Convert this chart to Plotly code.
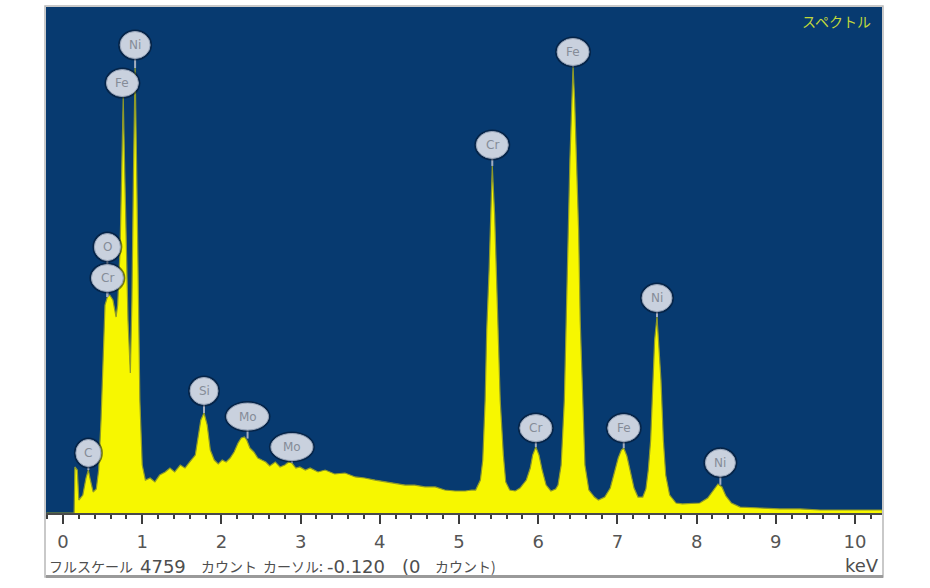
import plotly.graph_objects as go

# ---------------- data ----------------
energy_kev = [
    -0.21, 0.14, 0.15, 0.18, 0.20, 0.25, 0.29, 0.32, 0.34, 0.38,
    0.42, 0.45, 0.48, 0.51, 0.53, 0.56, 0.59, 0.63, 0.67, 0.69,
    0.72, 0.74, 0.76, 0.78, 0.80, 0.82, 0.85, 0.87, 0.89, 0.91,
    0.93, 0.95, 0.97, 1.00, 1.04, 1.10, 1.16, 1.22, 1.29, 1.35,
    1.41, 1.48, 1.54, 1.60, 1.67, 1.70, 1.74, 1.78, 1.82, 1.86,
    1.91, 1.96, 2.01, 2.06, 2.11, 2.16, 2.21, 2.25, 2.29, 2.32,
    2.36, 2.41, 2.46, 2.51, 2.56, 2.61, 2.68, 2.74, 2.80, 2.85,
    2.89, 2.94, 2.99, 3.06, 3.12, 3.22, 3.31, 3.43, 3.56, 3.69,
    3.81, 3.94, 4.07, 4.19, 4.32, 4.44, 4.57, 4.70, 4.82, 4.95,
    5.08, 5.16, 5.21, 5.27, 5.30, 5.33, 5.35, 5.38, 5.40, 5.42,
    5.45, 5.47, 5.50, 5.52, 5.56, 5.59, 5.64, 5.71, 5.77, 5.85,
    5.90, 5.93, 5.97, 6.01, 6.05, 6.10, 6.16, 6.22, 6.25, 6.29,
    6.33, 6.35, 6.38, 6.40, 6.42, 6.44, 6.46, 6.48, 6.51, 6.53,
    6.56, 6.59, 6.64, 6.71, 6.76, 6.84, 6.91, 6.96, 7.01, 7.05,
    7.08, 7.12, 7.16, 7.21, 7.26, 7.32, 7.36, 7.39, 7.42, 7.45,
    7.47, 7.50, 7.52, 7.55, 7.58, 7.61, 7.66, 7.74, 7.82, 8.04,
    8.14, 8.21, 8.27, 8.32, 8.37, 8.44, 8.55, 8.80, 9.05, 9.31,
    9.56, 9.81, 10.06, 10.34,
]
counts = [
    0, 0, 433, 404, 122, 169, 329, 404, 329, 198,
    226, 404, 875, 1439, 1956, 2031, 2050, 2003, 1843, 1956,
    2473, 3179, 3912, 3179, 2379, 1815, 1317, 2003, 3226, 4185,
    3226, 2003, 1063, 451, 310, 329, 292, 357, 386, 423,
    386, 451, 423, 480, 545, 687, 875, 941, 828, 592,
    498, 461, 498, 480, 517, 574, 658, 705, 715, 687,
    611, 574, 517, 498, 480, 442, 480, 433, 451, 480,
    470, 423, 433, 404, 423, 386, 404, 367, 376, 339,
    329, 310, 292, 282, 263, 263, 245, 245, 216, 207,
    207, 216, 216, 310, 498, 1063, 1721, 2286, 2803, 3264,
    2803, 2286, 1721, 1063, 545, 292, 216, 207, 235, 310,
    423, 545, 620, 545, 404, 263, 207, 226, 263, 451,
    1063, 1815, 2662, 3320, 3885, 4195, 3885, 3320, 2662, 1815,
    1063, 451, 216, 150, 122, 150, 235, 386, 517, 592,
    611, 536, 404, 235, 150, 150, 226, 404, 687, 1251,
    1627, 1843, 1627, 1251, 687, 357, 169, 94, 85, 94,
    141, 216, 273, 245, 160, 94, 56, 47, 38, 38,
    28, 28, 28, 28,
]

tick_values = [0, 1, 2, 3, 4, 5, 6, 7, 8, 9, 10]
tick_labels = [str(v) for v in tick_values]

label_elements = ["C", "O", "Cr", "Fe", "Ni", "Si", "Mo", "Mo",
                  "Cr", "Cr", "Fe", "Fe", "Ni", "Ni"]
label_kev = [0.32, 0.56, 0.56, 0.75, 0.91, 1.78, 2.33, 2.89,
             5.42, 5.97, 6.44, 7.08, 7.50, 8.30]
label_counts = [404, 2031, 2031, 3912, 4185, 941, 700, 470,
                3264, 620, 4195, 611, 1843, 265]

full_scale = 4759
cursor_kev = -0.120
cursor_counts = 0

# ---------------- layout / style (not data) ----------------
W, H = 930, 588
ML, MR, MT, MB = 46, 48, 7, 75
PW, PH = W - ML - MR, H - MT - MB
X_RANGE = [-0.215, 10.341]

label_rise = [17, 50, 19, 14, 23, 22, 22, 16, 21, 19, 15, 20, 19, 22]
label_width = [25, 26, 32, 32, 30, 28, 42, 42, 32, 32, 32, 32, 30, 30]
LABEL_H = 27

BLUE = "#073a70"
YELLOW = "#f7f700"


def px_x(px):
    return (px - ML) / PW


def px_y(py):
    return (H - MB - py) / PH


fig = go.Figure()
fig.add_trace(go.Scatter(
    x=energy_kev, y=counts, mode="lines", fill="tozeroy",
    line=dict(color="#8f9a2a", width=1.2), fillcolor=YELLOW,
    hoverinfo="skip", showlegend=False,
))

shapes = []
annotations = []

# tails
for e, c, rise in zip(label_kev, label_counts, label_rise):
    shapes.append(dict(
        type="line", xref="x", yref="y", xsizemode="pixel", ysizemode="pixel",
        xanchor=e, yanchor=c, x0=0, x1=0, y0=0, y1=rise,
        line=dict(color="#a4aec0", width=2), layer="above"))

# bubbles
for name, e, c, rise, w in zip(label_elements, label_kev, label_counts,
                               label_rise, label_width):
    shapes.append(dict(
        type="circle", xref="x", yref="y", xsizemode="pixel", ysizemode="pixel",
        xanchor=e, yanchor=c, x0=-w / 2 - 2, x1=w / 2 + 2,
        y0=rise - LABEL_H / 2 - 2, y1=rise + LABEL_H / 2 + 2,
        fillcolor="rgba(3,18,40,0.55)", line=dict(width=0), layer="above"))
    shapes.append(dict(
        type="circle", xref="x", yref="y", xsizemode="pixel", ysizemode="pixel",
        xanchor=e, yanchor=c, x0=-w / 2, x1=w / 2,
        y0=rise - LABEL_H / 2, y1=rise + LABEL_H / 2,
        fillcolor="#c9d1de", line=dict(color="#9aa6ba", width=1), layer="above"))
    annotations.append(dict(
        x=e, y=c, xref="x", yref="y", text=name, showarrow=False,
        yshift=rise, font=dict(family="DejaVu Sans", size=12, color="#858c98")))

# outer frame
shapes.append(dict(type="rect", xref="paper", yref="paper",
                   x0=px_x(45), x1=px_x(883), y0=px_y(577), y1=px_y(6),
                   line=dict(color="#b8b8b8", width=1.5), layer="above"))
shapes.append(dict(type="line", xref="paper", yref="paper",
                   x0=px_x(46), x1=px_x(883), y0=px_y(576.5), y1=px_y(576.5),
                   line=dict(color="#9a9a9a", width=3), layer="above"))

# title in top-right corner
annotations.append(dict(
    x=px_x(836), y=px_y(21), xref="paper", yref="paper", text="スペクトル",
    showarrow=False, xanchor="center", yanchor="middle",
    font=dict(family="Noto Sans CJK JP", size=14, color="#c2d83a")))

# status line below the axis
KANA = dict(family="Noto Sans CJK JP", size=14, color="#4e4e4e")
NUM = dict(family="DejaVu Sans", size=18, color="#4e4e4e")
status_parts = [
    (47, "フルスケール", KANA),
    (138, f"{full_scale}", NUM),
    (199, "カウント", KANA),
    (261, "カーソル:", KANA),
    (325, f"{cursor_kev:.3f}", NUM),
    (400, f"({cursor_counts}", NUM),
    (433, "カウント)", KANA),
]
for px, txt, fnt in status_parts:
    annotations.append(dict(
        x=px_x(px), y=px_y(566), xref="paper", yref="paper", text=txt,
        showarrow=False, xanchor="left", yanchor="middle", font=fnt))

annotations.append(dict(
    x=px_x(881), y=px_y(565), xref="paper", yref="paper", text="keV",
    showarrow=False, xanchor="right", yanchor="middle",
    font=dict(family="DejaVu Sans", size=18, color="#4e4e4e")))

fig.update_layout(
    width=W, height=H,
    margin=dict(l=ML, r=MR, t=MT, b=MB, pad=0),
    paper_bgcolor="white", plot_bgcolor=BLUE,
    shapes=shapes, annotations=annotations,
    xaxis=dict(
        range=X_RANGE, showgrid=False, zeroline=False,
        showline=True, linecolor="#4a4a4a", linewidth=2,
        tickmode="array", tickvals=tick_values, ticktext=tick_labels,
        ticks="outside", ticklen=9, tickwidth=1.5, tickcolor="#3c3c3c",
        ticklabelstandoff=2,
        tickfont=dict(family="DejaVu Sans", size=18, color="#555555"),
        minor=dict(tickmode="linear", tick0=0, dtick=0.2, ticks="outside",
                   ticklen=4, tickwidth=1.5, tickcolor="#3c3c3c"),
        fixedrange=True,
    ),
    yaxis=dict(
        range=[0, full_scale], showgrid=False, zeroline=False,
        showticklabels=False, ticks="", showline=False, fixedrange=True,
    ),
)

fig.write_html("out.html", config={"displayModeBar": False},
               post_script="document.body.style.margin='0';")
